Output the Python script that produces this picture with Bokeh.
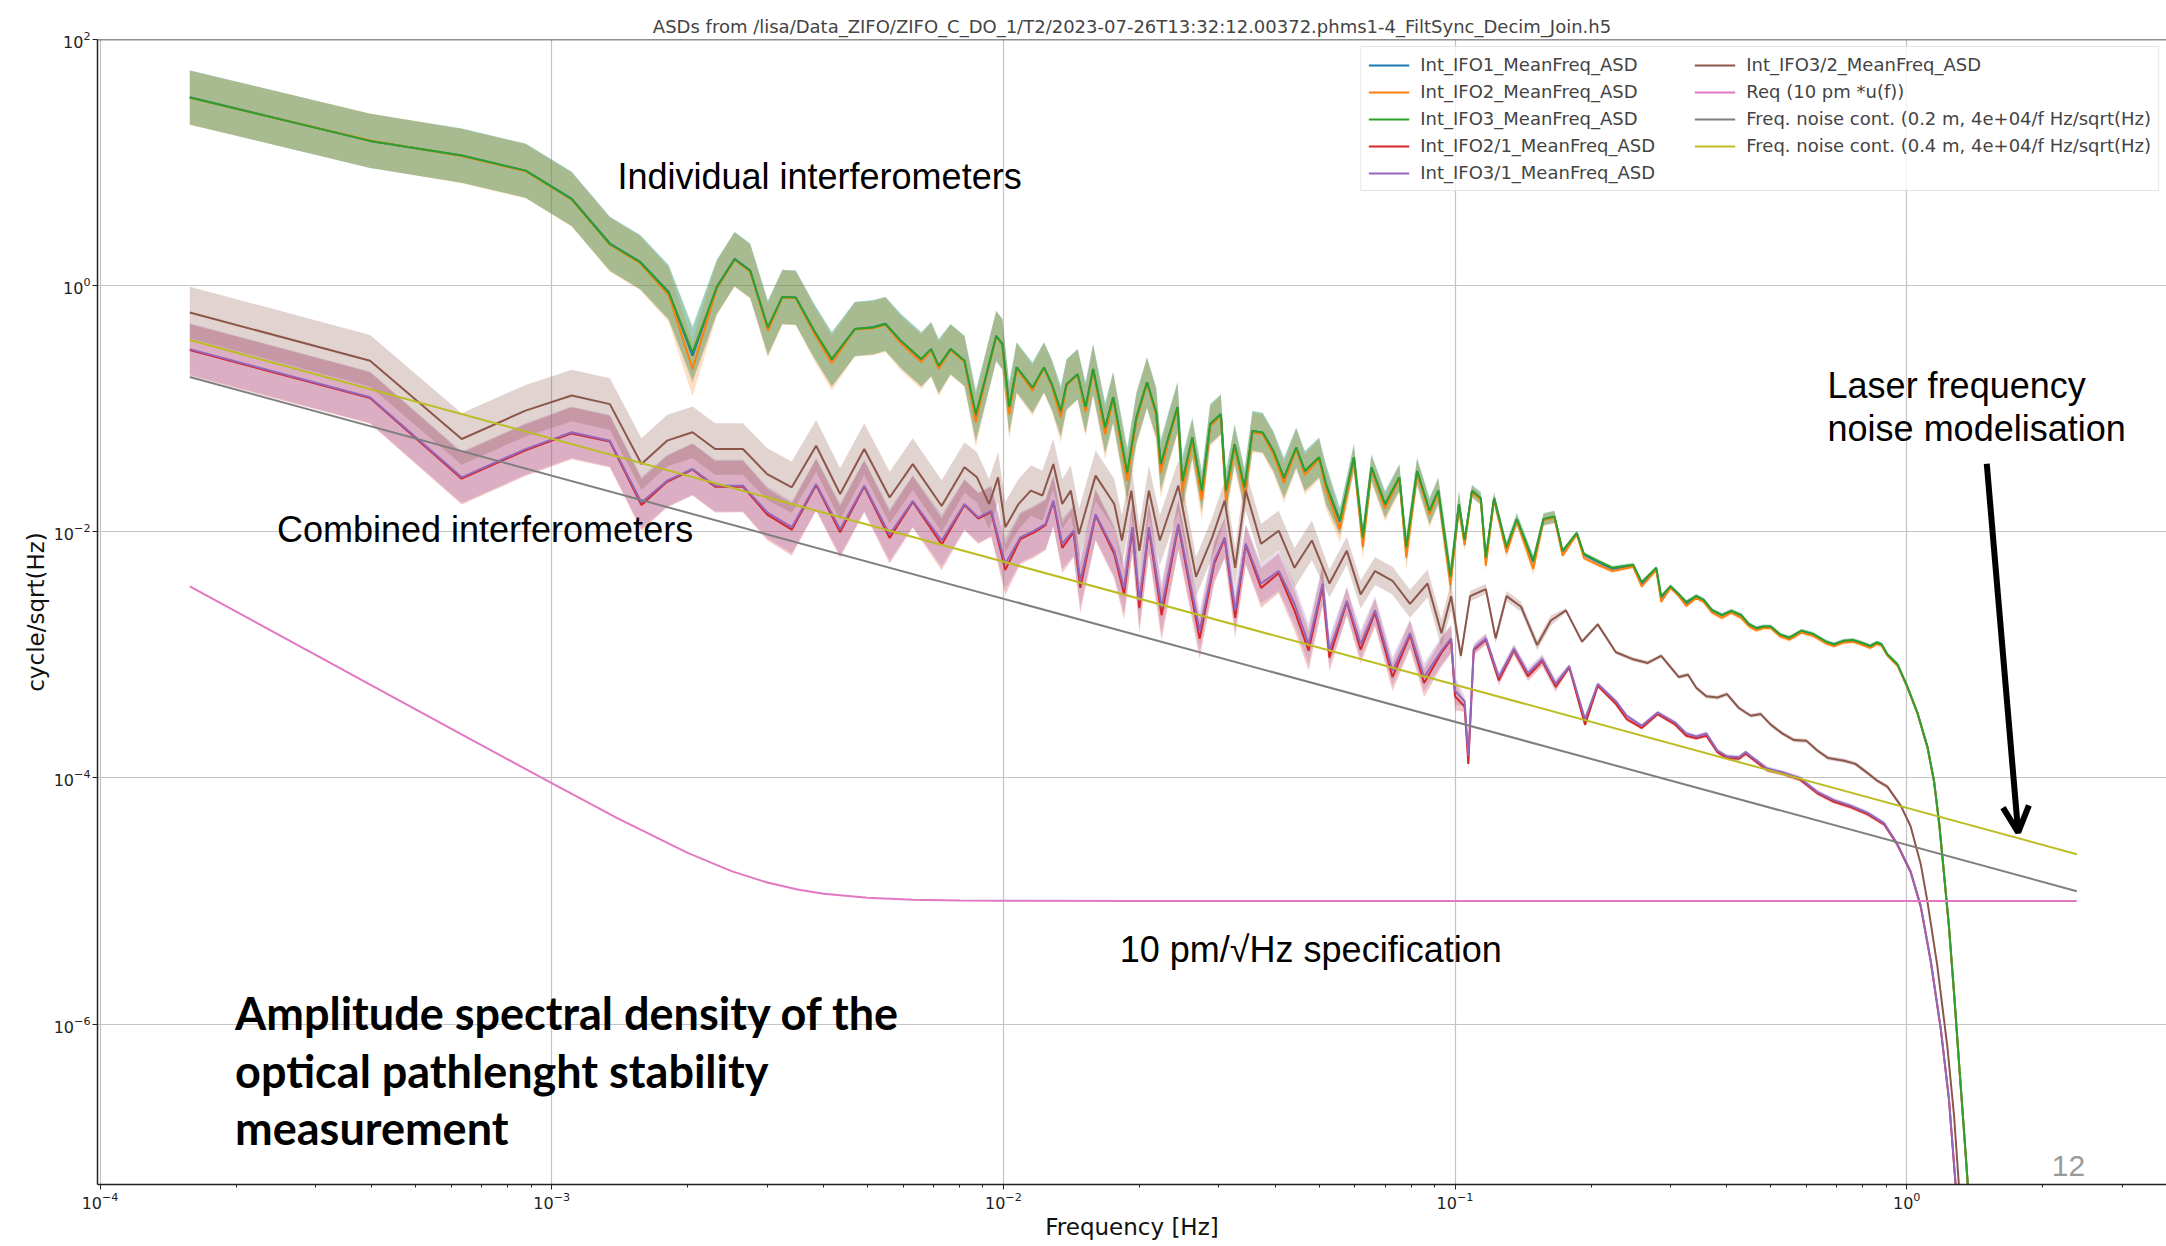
import numpy as np
from bokeh.plotting import figure
from bokeh.models import (FixedTicker, Legend, LegendItem, Label, Arrow, OpenHead, Span)
from bokeh.embed import file_html
from bokeh.resources import INLINE

TITLE = "ASDs from /lisa/Data_ZIFO/ZIFO_C_DO_1/T2/2023-07-26T13:32:12.00372.phms1-4_FiltSync_Decim_Join.h5"

# ---------------- individual interferometers (IFO1, IFO2, IFO3) ----------------
freq_ifo = [1.58e-4, 3.96e-4, 6.32e-4, 8.75e-4, 1.107e-3, 1.345e-3, 1.57e-3, 1.815e-3, 2.05e-3, 2.32e-3,
            2.54e-3, 2.75e-3, 3.01e-3, 3.24e-3, 3.47e-3, 3.81e-3, 4.17e-3, 4.69e-3, 5.14e-3, 5.48e-3,
            5.93e-3, 6.58e-3, 6.92e-3, 7.19e-3,
            7.64e-3, 8.2e-3, 8.69e-3, 9.14e-3, 9.64e-3, 9.95e-3, 1.03e-2, 1.07e-2, 1.16e-2, 1.23e-2,
            1.28e-2, 1.34e-2, 1.38e-2, 1.46e-2, 1.52e-2, 1.58e-2, 1.68e-2, 1.75e-2, 1.88e-2, 1.97e-2,
            2.08e-2, 2.18e-2, 2.23e-2, 2.32e-2, 2.43e-2, 2.49e-2, 2.62e-2, 2.75e-2, 2.87e-2, 3.03e-2,
            3.11e-2, 3.25e-2, 3.42e-2, 3.56e-2, 3.75e-2, 3.96e-2, 4.18e-2, 4.45e-2, 4.65e-2, 5.0e-2,
            5.18e-2, 5.56e-2, 5.97e-2, 6.25e-2, 6.53e-2, 7.0e-2, 7.53e-2, 7.8e-2, 8.24e-2, 8.78e-2,
            9.18e-2, 9.77e-2,
            0.102, 0.105, 0.109, 0.114, 0.117, 0.122, 0.130, 0.137, 0.149, 0.157,
            0.166, 0.173, 0.186, 0.193, 0.207, 0.223, 0.248, 0.259, 0.279, 0.286,
            0.30, 0.313, 0.325, 0.342, 0.355, 0.371, 0.39, 0.409, 0.43, 0.448,
            0.465, 0.481, 0.50, 0.525, 0.55, 0.585, 0.62, 0.663, 0.69, 0.724,
            0.76, 0.792, 0.83, 0.859, 0.88,
            0.906, 0.954, 1.0, 1.056, 1.112, 1.15, 1.18, 1.21, 1.24, 1.274, 1.306, 1.34, 1.367, 1.40]

ifo3_asd = [33.8, 15.0, 11.4, 8.6, 5.05, 2.18, 1.55, 0.88, 0.286, 0.97,
            1.64, 1.32, 0.457, 0.81, 0.80, 0.43, 0.254, 0.444, 0.457, 0.488,
            0.356, 0.254, 0.305, 0.223,
            0.305, 0.245, 0.0905, 0.18, 0.39, 0.335, 0.103, 0.217, 0.149, 0.217,
            0.158, 0.0964, 0.158, 0.191, 0.103, 0.21, 0.0705, 0.124, 0.0304, 0.085,
            0.164, 0.093, 0.0355, 0.0585, 0.103, 0.026, 0.0585, 0.0216, 0.075, 0.0905,
            0.0216, 0.0516, 0.023, 0.066, 0.064, 0.0456, 0.0277, 0.0485, 0.0313, 0.0403,
            0.0244, 0.0123, 0.0403, 0.009, 0.0334, 0.0168, 0.0277, 0.0075, 0.0313, 0.0148,
            0.0216, 0.0043,
            0.0168, 0.0086, 0.0215, 0.0188, 0.0062, 0.0188, 0.0075, 0.0127, 0.0058, 0.0127,
            0.0133, 0.0070, 0.0098, 0.0066, 0.0058, 0.0051, 0.0054, 0.0039, 0.0051, 0.0030,
            0.0036, 0.0031, 0.0027, 0.0030, 0.0028, 0.0023, 0.0021, 0.00228, 0.0021, 0.00177,
            0.00165, 0.00170, 0.0017, 0.00146, 0.00138, 0.00157, 0.00148, 0.00128, 0.00122, 0.0013,
            0.00132, 0.00126, 0.00118, 0.00126, 0.00122,
            1.01e-3, 8.4e-4, 5.7e-4, 3.4e-4, 1.78e-4, 9.35e-5, 4.3e-5, 1.64e-5, 6.3e-6, 1.73e-6,
            4.8e-7, 1.32e-7, 4.7e-8, 1.0e-8]

ifo2_asd = [33.6, 15.1, 11.3, 8.5, 5.0, 2.15, 1.52, 0.84, 0.21, 0.95,
            1.62, 1.30, 0.43, 0.80, 0.79, 0.41, 0.235, 0.44, 0.45, 0.48,
            0.34, 0.24, 0.30, 0.21,
            0.30, 0.24, 0.078, 0.175, 0.385, 0.33, 0.090, 0.212, 0.140, 0.214,
            0.152, 0.085, 0.155, 0.188, 0.095, 0.205, 0.062, 0.120, 0.026, 0.080,
            0.160, 0.088, 0.030, 0.055, 0.100, 0.021, 0.055, 0.018, 0.072, 0.088,
            0.018, 0.049, 0.020, 0.064, 0.062, 0.043, 0.025, 0.047, 0.029, 0.039,
            0.022, 0.0105, 0.039, 0.0075, 0.032, 0.0155, 0.027, 0.0062, 0.030, 0.0138,
            0.021, 0.0037,
            0.0163, 0.0078, 0.0210, 0.0182, 0.0053, 0.0183, 0.0068, 0.0123, 0.0050, 0.0124,
            0.0130, 0.0064, 0.0095, 0.0061, 0.0054, 0.0048, 0.0052, 0.0036, 0.0049, 0.0027,
            0.0035, 0.0030, 0.0025, 0.0029, 0.0027, 0.0022, 0.0020, 0.00220, 0.0020, 0.00170,
            0.00158, 0.00165, 0.00165, 0.00141, 0.00133, 0.00152, 0.00143, 0.00124, 0.00118, 0.00126,
            0.00128, 0.00122, 0.00114, 0.00123, 0.00119,
            9.9e-4, 8.2e-4, 5.6e-4, 3.35e-4, 1.75e-4, 9.2e-5, 4.25e-5, 1.62e-5, 6.2e-6, 1.7e-6,
            4.7e-7, 1.3e-7, 4.6e-8, 1.0e-8]

ifo1_asd = [33.9, 15.0, 11.4, 8.6, 5.1, 2.2, 1.56, 0.89, 0.27, 0.98,
            1.65, 1.33, 0.45, 0.81, 0.80, 0.43, 0.25, 0.445, 0.46, 0.49,
            0.355, 0.25, 0.305, 0.22,
            0.305, 0.245, 0.085, 0.18, 0.39, 0.335, 0.100, 0.217, 0.147, 0.217,
            0.157, 0.094, 0.158, 0.191, 0.101, 0.21, 0.069, 0.124, 0.029, 0.084,
            0.164, 0.092, 0.034, 0.058, 0.103, 0.025, 0.058, 0.021, 0.075, 0.090,
            0.021, 0.051, 0.022, 0.066, 0.064, 0.045, 0.027, 0.048, 0.031, 0.040,
            0.024, 0.012, 0.040, 0.0088, 0.033, 0.0166, 0.0276, 0.0072, 0.031, 0.0146,
            0.0215, 0.0041,
            0.0167, 0.0084, 0.0214, 0.0187, 0.0060, 0.0187, 0.0073, 0.0126, 0.0057, 0.0126,
            0.0132, 0.0069, 0.0097, 0.0065, 0.0057, 0.0050, 0.0053, 0.0038, 0.0050, 0.0029,
            0.0036, 0.0031, 0.0026, 0.0030, 0.0028, 0.0023, 0.0021, 0.00226, 0.0021, 0.00176,
            0.00164, 0.00169, 0.00169, 0.00145, 0.00137, 0.00156, 0.00147, 0.00127, 0.00121, 0.00129,
            0.00131, 0.00125, 0.00117, 0.00125, 0.00121,
            1.0e-3, 8.3e-4, 5.65e-4, 3.38e-4, 1.77e-4, 9.3e-5, 4.28e-5, 1.63e-5, 6.25e-6, 1.72e-6,
            4.75e-7, 1.31e-7, 4.65e-8, 1.0e-8]

# ---------------- combined interferometers ----------------
freq_32 = [1.58e-4, 3.96e-4, 6.32e-4, 8.75e-4, 1.107e-3, 1.345e-3, 1.58e-3, 1.8e-3, 2.05e-3, 2.3e-3,
           2.65e-3, 3.0e-3, 3.4e-3, 3.85e-3, 4.35e-3, 4.92e-3, 5.6e-3, 6.3e-3, 7.3e-3,
           8.2e-3, 8.74e-3, 9.3e-3, 9.73e-3, 1.01e-2, 1.08e-2, 1.15e-2, 1.22e-2, 1.29e-2, 1.35e-2,
           1.41e-2, 1.47e-2, 1.6e-2, 1.76e-2, 1.83e-2, 1.92e-2, 2.0e-2, 2.1e-2, 2.22e-2, 2.44e-2,
           2.67e-2, 2.9e-2, 3.09e-2, 3.26e-2, 3.44e-2, 3.72e-2, 4.07e-2, 4.41e-2, 4.82e-2, 5.27e-2,
           5.76e-2, 6.18e-2, 6.65e-2, 7.27e-2, 7.95e-2, 8.69e-2, 9.33e-2,
           0.098, 0.103, 0.108, 0.117, 0.123, 0.130, 0.140, 0.152, 0.163, 0.176,
           0.191, 0.207, 0.227, 0.248, 0.267,
           0.286, 0.313, 0.328, 0.342, 0.36, 0.381, 0.40, 0.425, 0.44, 0.452,
           0.475, 0.5, 0.53, 0.563, 0.60, 0.634, 0.67, 0.727, 0.77, 0.818,
           0.86, 0.906, 0.97, 1.02, 1.074, 1.112, 1.17, 1.23, 1.273, 1.306,
           1.34]

ifo32_asd = [0.606, 0.245, 0.0567, 0.0964, 0.128, 0.109, 0.0355, 0.055, 0.0643, 0.047,
             0.047, 0.0294, 0.023, 0.050, 0.0203, 0.047, 0.019, 0.0355, 0.0162,
             0.0334, 0.0277, 0.0168, 0.0277, 0.0109, 0.0168, 0.0216, 0.0197, 0.0355, 0.0168,
             0.0216, 0.0096, 0.0286, 0.0168, 0.0085, 0.0216, 0.0070, 0.0216, 0.0085, 0.0237,
             0.0043, 0.0090, 0.0179, 0.0051, 0.0216, 0.0080, 0.0102, 0.0051, 0.0085, 0.0038,
             0.0070, 0.0031, 0.0048, 0.0040, 0.0026, 0.0038, 0.0015,
             0.0030, 0.00098, 0.0030, 0.00342, 0.00136, 0.0030, 0.00246, 0.0012, 0.0019, 0.0023,
             0.00128, 0.00177, 0.00105, 0.00092, 0.00086,
             0.00098, 0.00066, 0.00069, 0.00054, 0.00046, 0.00045, 0.00048, 0.00037, 0.00034, 3.2e-4,
             3.3e-4, 2.71e-4, 2.3e-4, 2.03e-4, 2.0e-4, 1.67e-4, 1.45e-4, 1.38e-4, 1.3e-4, 1.1e-4,
             9.5e-5, 8.5e-5, 5.96e-5, 4.05e-5, 2.0e-5, 9.8e-6, 2.9e-6, 6.6e-7, 1.8e-7, 4.7e-8,
             1.0e-8]

freq_31 = [1.58e-4, 3.96e-4, 6.32e-4, 8.75e-4, 1.107e-3, 1.345e-3, 1.58e-3, 1.8e-3, 2.05e-3, 2.3e-3,
           2.65e-3, 3.0e-3, 3.4e-3, 3.85e-3, 4.35e-3, 4.92e-3, 5.6e-3, 6.3e-3, 7.3e-3,
           8.2e-3, 8.8e-3, 9.4e-3, 1.01e-2, 1.09e-2, 1.17e-2, 1.24e-2, 1.29e-2, 1.35e-2, 1.43e-2,
           1.48e-2, 1.6e-2, 1.76e-2, 1.85e-2, 1.93e-2, 2.0e-2, 2.1e-2, 2.24e-2, 2.44e-2, 2.72e-2,
           2.93e-2, 3.09e-2, 3.26e-2, 3.44e-2, 3.72e-2, 4.07e-2, 4.41e-2, 4.74e-2, 5.09e-2, 5.27e-2,
           5.76e-2, 6.18e-2, 6.65e-2, 7.27e-2, 7.95e-2, 8.54e-2, 9.33e-2, 0.098, 0.1, 0.105,
           0.107, 0.110, 0.117, 0.125, 0.135, 0.145, 0.156, 0.167, 0.179, 0.194,
           0.207, 0.227, 0.240, 0.259, 0.281, 0.307, 0.325, 0.342, 0.36, 0.381,
           0.40, 0.425, 0.44, 0.452, 0.49, 0.536, 0.58, 0.634, 0.69, 0.751,
           0.82, 0.891, 0.954, 1.02, 1.074, 1.13, 1.19, 1.24, 1.285, 1.32]

ifo31_asd = [0.305, 0.124, 0.0277, 0.047, 0.0643, 0.055, 0.0173, 0.026, 0.0324, 0.0237,
             0.0237, 0.0144, 0.0109, 0.0244, 0.0105, 0.0237, 0.0095, 0.0178, 0.0085,
             0.0168, 0.0131, 0.0148, 0.0055, 0.0090, 0.0102, 0.0116, 0.0179, 0.008, 0.0102,
             0.0040, 0.0139, 0.0070, 0.0035, 0.0109, 0.00275, 0.0109, 0.00243, 0.0116, 0.00157,
             0.0058, 0.0090, 0.0023, 0.008, 0.0038, 0.0048, 0.0026, 0.00122, 0.0038, 0.00108,
             0.00275, 0.00122, 0.0023, 0.00074, 0.0015, 0.00066, 0.00108, 0.00136, 0.00051, 0.00042,
             0.00015, 0.00112, 0.00136, 0.00066, 0.00112, 0.00071, 0.00092, 0.00058, 0.00081, 0.0003,
             0.00058, 0.00042, 0.00032, 0.000265, 0.00034, 0.000282, 0.00023, 0.000217, 0.00023, 0.000167,
             0.00015, 0.000147, 0.000162, 0.000150, 0.00012, 1.1e-4, 1.0e-4, 7.7e-5, 6.6e-5, 5.96e-5,
             5.2e-5, 4.3e-5, 2.9e-5, 1.75e-5, 9.2e-6, 3.3e-6, 9.1e-7, 2.5e-7, 4.7e-8, 1.0e-8]

ifo21_asd = [0.30, 0.122, 0.027, 0.046, 0.063, 0.054, 0.0165, 0.0255, 0.032, 0.0232,
             0.0233, 0.0138, 0.0104, 0.024, 0.0099, 0.0233, 0.0089, 0.0175, 0.0079,
             0.0165, 0.0128, 0.0145, 0.0049, 0.0087, 0.0099, 0.0113, 0.0176, 0.0074, 0.0099,
             0.0035, 0.0136, 0.0066, 0.0031, 0.0106, 0.0024, 0.0106, 0.0021, 0.0113, 0.00135,
             0.0055, 0.0088, 0.0020, 0.0078, 0.0035, 0.0046, 0.0023, 0.00108, 0.0036, 0.00095,
             0.0027, 0.00110, 0.0022, 0.00066, 0.00145, 0.00059, 0.00104, 0.00133, 0.00046, 0.00038,
             0.00013, 0.00109, 0.00133, 0.00062, 0.00109, 0.00067, 0.00089, 0.00055, 0.00079, 0.00027,
             0.00056, 0.00040, 0.00030, 0.000255, 0.00033, 0.000272, 0.00022, 0.000210, 0.00022, 0.000162,
             0.000145, 0.000143, 0.000157, 0.000146, 0.000116, 1.07e-4, 9.7e-5, 7.5e-5, 6.4e-5, 5.8e-5,
             5.05e-5, 4.2e-5, 2.85e-5, 1.72e-5, 9.0e-6, 3.25e-6, 9.0e-7, 2.45e-7, 4.6e-8, 1.0e-8]

# ---------------- requirement and laser frequency noise models ----------------
freq_req = [1.58e-4, 2.5e-4, 4e-4, 6.3e-4, 1e-3, 1.4e-3, 2e-3, 2.5e-3, 3e-3, 3.5e-3,
            4e-3, 5e-3, 6.3e-3, 8e-3, 1e-2, 2e-2, 1e-1, 1.0, 2.38]
req_asd = [3.6e-3, 1.44e-3, 5.63e-4, 2.27e-4, 9.06e-5, 4.7e-5, 2.46e-5, 1.75e-5, 1.414e-5, 1.24e-5,
           1.147e-5, 1.063e-5, 1.025e-5, 1.01e-5, 1.004e-5, 1.0e-5, 1.0e-5, 1.0e-5, 1.0e-5]
freq_model = [1.58e-4, 2.38]
fnc_02m = [0.181, 1.2e-5]
fnc_04m = [0.362, 2.4e-5]

# band half-widths (multiplicative) read per frequency segment
band_edges = [0.0075, 0.025, 0.052, 0.102, 0.17, 100.0]
band_ifo_k = [1.66, 1.6, 1.45, 1.28, 1.12, 1.04]
band_comb_k = [1.62, 1.6, 1.45, 1.3, 1.1, 1.04]

C = {"blue": "#1f77b4", "orange": "#ff7f0e", "green": "#2ca02c", "red": "#d62728",
     "purple": "#9467bd", "brown": "#8c564b", "pink": "#e377c2", "gray": "#7f7f7f", "olive": "#bcbd22"}

p = figure(width=2166, height=1246, x_axis_type="log", y_axis_type="log",
           x_range=(9.87e-5, 3.76), y_range=(4.97e-8, 100),
           output_backend="svg", toolbar_location=None, title=TITLE,
           min_border_left=97, min_border_right=0, min_border_top=39, min_border_bottom=62)

p.title.text_font = "DejaVu Sans"
p.title.text_font_size = "18px"
p.title.text_font_style = "normal"
p.title.align = "center"
p.title.standoff = 5
p.outline_line_color = None
p.background_fill_color = "white"
p.border_fill_color = "white"

x_major = [1e-4, 1e-3, 1e-2, 1e-1, 1.0]
x_minor = [k * 10.0 ** e for e in range(-4, 1) for k in range(2, 10)]
y_major = [1e-6, 1e-4, 1e-2, 1.0, 100.0]
p.xaxis.ticker = FixedTicker(ticks=x_major, minor_ticks=x_minor)
p.yaxis.ticker = FixedTicker(ticks=y_major, minor_ticks=[])
p.xgrid.ticker = FixedTicker(ticks=x_major)
p.ygrid.ticker = FixedTicker(ticks=y_major)
for g in (p.xgrid[0], p.ygrid[0]):
    g.grid_line_color = "#c4c4c4"
    g.grid_line_width = 1.2

for ax in (p.xaxis[0], p.yaxis[0]):
    ax.axis_line_color = "#222222"
    ax.axis_line_width = 1.5
    ax.major_tick_line_color = "#222222"
    ax.minor_tick_line_color = "#222222"
    ax.major_tick_out = 5
    ax.major_tick_in = 0
    ax.minor_tick_out = 3
    ax.minor_tick_in = 0
    ax.major_label_text_font = "DejaVu Sans"
    ax.major_label_text_font_size = "16px"
    ax.major_label_text_color = "#222222"
    ax.axis_label_text_font = "DejaVu Sans"
    ax.axis_label_text_font_size = "23px"
    ax.axis_label_text_font_style = "normal"
    ax.axis_label_text_color = "#111111"
    ax.major_label_standoff = 2
    ax.axis_label_standoff = 2
p.xaxis.axis_label = "Frequency [Hz]"
p.yaxis.axis_label = "cycle/sqrt(Hz)"

p.add_layout(Span(location=100, dimension="width", line_color="#222222", line_width=1.5))


def band_factor(freqs, ks):
    idx = np.searchsorted(band_edges, np.asarray(freqs))
    return np.asarray(ks)[np.minimum(idx, len(ks) - 1)]


series = [
    ("Int_IFO1_MeanFreq_ASD", freq_ifo, ifo1_asd, C["blue"], band_ifo_k),
    ("Int_IFO2_MeanFreq_ASD", freq_ifo, ifo2_asd, C["orange"], band_ifo_k),
    ("Int_IFO3_MeanFreq_ASD", freq_ifo, ifo3_asd, C["green"], band_ifo_k),
    ("Int_IFO2/1_MeanFreq_ASD", freq_31, ifo21_asd, C["red"], band_comb_k),
    ("Int_IFO3/1_MeanFreq_ASD", freq_31, ifo31_asd, C["purple"], band_comb_k),
    ("Int_IFO3/2_MeanFreq_ASD", freq_32, ifo32_asd, C["brown"], band_comb_k),
]

# shaded bands first
for name, f, v, col, ks in series:
    n = min(len(f), len(v))
    f_ = np.array(f[:n]); v_ = np.array(v[:n]); k = band_factor(f_, ks)
    p.varea(x=f_, y1=v_ / k, y2=v_ * k, fill_color=col, fill_alpha=0.26)

renderers = []
labels = []
for name, f, v, col, ks in series:
    n = min(len(f), len(v))
    r = p.line(np.array(f[:n]), np.array(v[:n]), line_color=col, line_width=2)
    renderers.append(r); labels.append(name)

r_req = p.line(freq_req, req_asd, line_color=C["pink"], line_width=2)
r_g = p.line(freq_model, fnc_02m, line_color=C["gray"], line_width=2)
r_y = p.line(freq_model, fnc_04m, line_color=C["olive"], line_width=2)
renderers += [r_req, r_g, r_y]
labels += ["Req (10 pm *u(f))",
           "Freq. noise cont. (0.2 m, 4e+04/f Hz/sqrt(Hz)",
           "Freq. noise cont. (0.4 m, 4e+04/f Hz/sqrt(Hz)"]

legend = Legend(items=[LegendItem(label=l, renderers=[r]) for l, r in zip(labels, renderers)],
                ncols=2, location="top_right", margin=7, padding=7, spacing=6,
                label_width=268, label_height=20, glyph_width=41, glyph_height=20,
                label_standoff=11, label_text_font="DejaVu Sans", label_text_font_size="18px",
                border_line_color="#cccccc", border_line_width=1, background_fill_alpha=0.8)
p.add_layout(legend)

# slide annotations (y is the visual centre line of each text)
ann = dict(text_font="Liberation Sans", text_font_size="36px", text_color="black",
           text_baseline="alphabetic")
p.add_layout(Label(x=1.398e-3, y=7.77, text="Individual interferometers", **ann))
p.add_layout(Label(x=2.464e-4, y=1.04e-2, text="Combined interferometers", **ann))
p.add_layout(Label(x=0.668, y=0.1538, text="Laser frequency", **ann))
p.add_layout(Label(x=0.668, y=0.0692, text="noise modelisation", **ann))
p.add_layout(Label(x=0.0181, y=4.03e-6, text="10 pm/\u221aHz specification", **ann))

bold = dict(text_font="Lato", text_font_size="45px", text_font_style="bold", text_color="black",
            text_baseline="alphabetic")
p.add_layout(Label(x=1.99e-4, y=1.239e-6, text="Amplitude spectral density of the", **bold))
p.add_layout(Label(x=1.99e-4, y=4.17e-7, text="optical pathlenght stability", **bold))
p.add_layout(Label(x=1.99e-4, y=1.44e-7, text="measurement", **bold))

# slide page number (kept inside the plotting frame so that it is not clipped)
p.add_layout(Label(x=2.096, y=7.09e-8, text="12", text_font="Liberation Sans", text_font_size="30px",
                   text_color="#9a9a9a", text_baseline="alphabetic"))

p.add_layout(Arrow(end=OpenHead(size=26, line_width=6, line_color="black"),
                   x_start=1.504, y_start=0.0357, x_end=1.765, y_end=3.61e-5,
                   line_width=6, line_color="black"))

open("out.html", "w").write(file_html(p, INLINE, title="ASD"))
